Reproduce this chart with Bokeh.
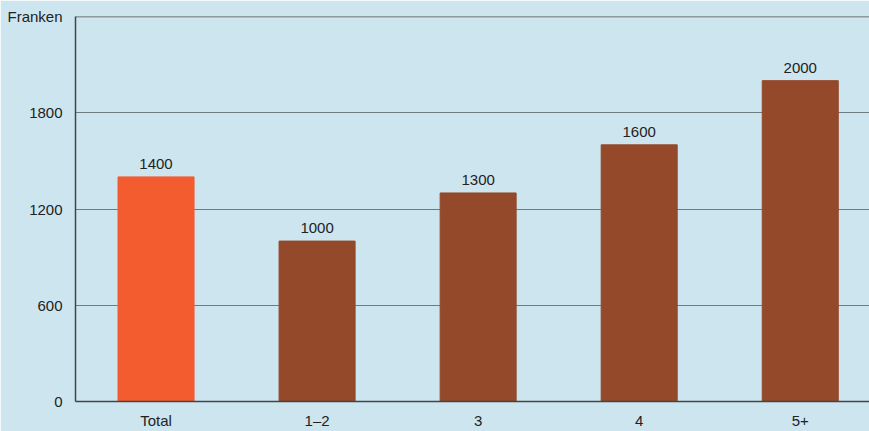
from bokeh.plotting import figure
from bokeh.models import Range1d, FixedTicker, Span, ColumnDataSource
from bokeh.embed import file_html
from bokeh.resources import INLINE

categories = ["Total", "1–2", "3", "4", "5+"]
values = [1400, 1000, 1300, 1600, 2000]
colors = ["#f25c2e", "#93492a", "#93492a", "#93492a", "#93492a"]
y_ticks = [0, 600, 1200, 1800]
y_max = 2400
unit_label = "Franken"

FONT = "Liberation Sans"
BG = "#cde5ef"

xs = [i + 0.5 for i in range(len(categories))]
src = ColumnDataSource(dict(x=xs, top=values, color=colors, label=[str(v) for v in values]))

p = figure(width=869, height=431, output_backend="svg", toolbar_location=None,
           x_range=Range1d(0, 4.93), y_range=Range1d(0, y_max),
           min_border_left=75, min_border_right=0, min_border_top=16, min_border_bottom=20)
p.background_fill_color = BG
p.border_fill_color = BG
p.outline_line_color = None

p.vbar(x="x", top="top", width=0.472, color="color", source=src)
p.text(x="x", y="top", text="label", source=src, text_align="center", text_baseline="bottom",
       y_offset=-8, text_font_size="15px", text_color="#222222", text_font={"value": FONT})

p.xgrid.visible = False
p.ygrid.ticker = FixedTicker(ticks=y_ticks)
p.ygrid.grid_line_color = "#6e7c82"
p.ygrid.grid_line_width = 1.2

p.yaxis.ticker = FixedTicker(ticks=y_ticks + [y_max])
p.yaxis.major_label_overrides = {y_max: unit_label}
p.xaxis.ticker = FixedTicker(ticks=xs)
p.xaxis.major_label_overrides = {x: c for x, c in zip(xs, categories)}
for ax in (p.xaxis, p.yaxis):
    ax.axis_line_color = "#444444"
    ax.axis_line_width = 1.5
    ax.major_tick_line_color = None
    ax.minor_tick_line_color = None
    ax.major_label_text_font = FONT
    ax.major_label_text_font_size = "15px"
    ax.major_label_text_color = "#222222"
p.yaxis.major_label_standoff = 7
p.xaxis.major_label_standoff = 4

p.add_layout(Span(location=y_max, dimension="width", line_color="#444444", line_width=1.5))

open("out.html", "w").write(file_html(p, INLINE))
